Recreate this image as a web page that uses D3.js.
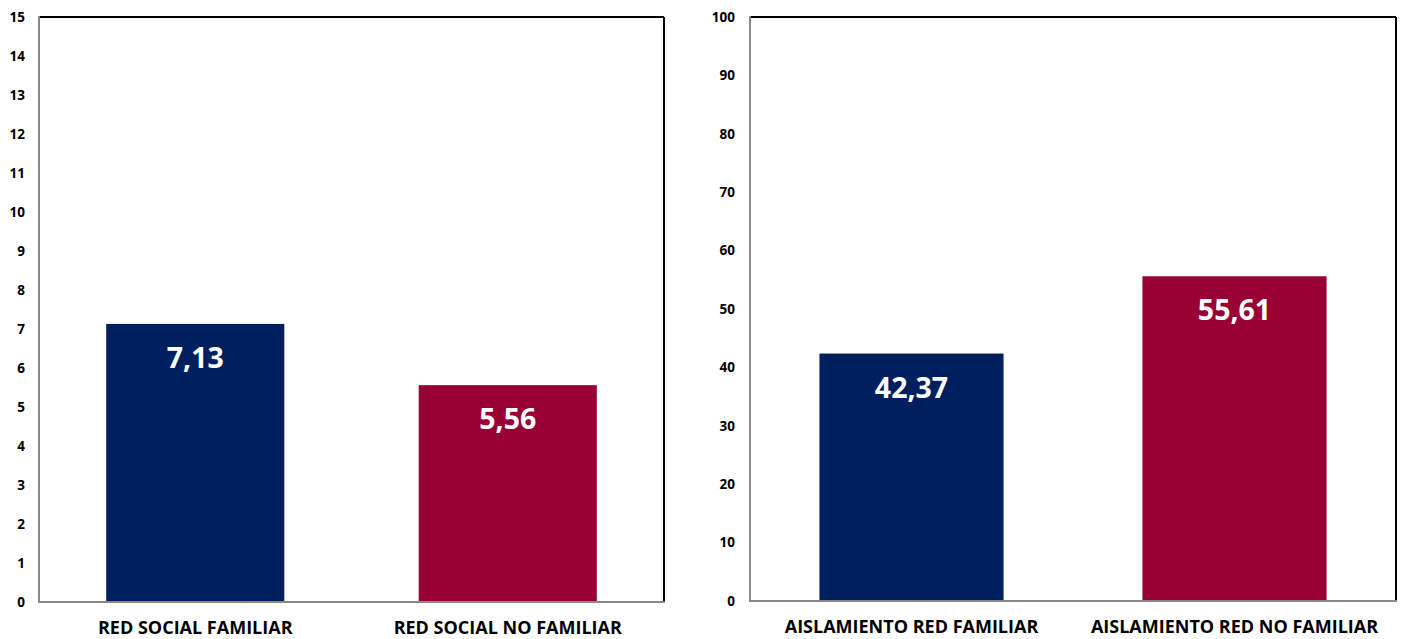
<!DOCTYPE html>
<html><head><meta charset="utf-8">
<script src="https://cdn.jsdelivr.net/npm/d3@7"></script>
<style>body{margin:0;background:#fff}svg{display:block}text{font-family:"Open Sans","Noto Sans",sans-serif;font-weight:bold}</style>
</head><body>
<svg id="c" width="1402" height="639"></svg>
<script>
const leftCategories = ["RED SOCIAL FAMILIAR", "RED SOCIAL NO FAMILIAR"];
const leftValues = [7.13, 5.56];
const leftTicks = d3.range(0, 16, 1);
const rightCategories = ["AISLAMIENTO RED FAMILIAR", "AISLAMIENTO RED NO FAMILIAR"];
const rightValues = [42.37, 55.61];
const rightTicks = d3.range(0, 101, 10);
const colors = ["#001F5F", "#990033"];

const svg = d3.select("#c");

function panel(cfg) {
  const {x0, x1, y0, y1, cats, vals, ticks, max} = cfg;
  const g = svg.append("g");
  const x = d3.scaleBand().domain(cats).range([x0, x1]).paddingInner(0.43).paddingOuter(0.215);
  const y = d3.scaleLinear().domain([0, max]).range([y1, y0]);
  g.selectAll("rect.bar").data(vals).enter().append("rect")
    .attr("x", (d, i) => x(cats[i])).attr("width", x.bandwidth())
    .attr("y", d => y(d)).attr("height", d => y(0) - y(d))
    .attr("fill", (d, i) => colors[i]);
  g.selectAll("text.val").data(vals).enter().append("text")
    .attr("x", (d, i) => x(cats[i]) + x.bandwidth() / 2)
    .attr("y", d => y(d) + 44)
    .attr("text-anchor", "middle").attr("fill", "#fff")
    .style("font-size", "28.5px")
    .text(d => d.toFixed(2).replace(".", ","));
  // frame
  g.append("line").attr("x1", x0).attr("x2", x1).attr("y1", y0).attr("y2", y0).attr("stroke", "#000").attr("stroke-width", 2);
  g.append("line").attr("x1", x1).attr("x2", x1).attr("y1", y0).attr("y2", y1).attr("stroke", "#000").attr("stroke-width", 2);
  g.append("line").attr("x1", x0).attr("x2", x0).attr("y1", y0 - 1).attr("y2", y1 + 1).attr("stroke", "#888").attr("stroke-width", 2);
  g.append("line").attr("x1", x0).attr("x2", x1 + 1).attr("y1", y1).attr("y2", y1).attr("stroke", "#888").attr("stroke-width", 2);
  // y axis labels
  const ya = d3.axisLeft(y).tickValues(ticks).tickSize(0).tickPadding(cfg.pad);
  const ag = g.append("g").attr("transform", `translate(${x0},0)`).call(ya);
  ag.select(".domain").remove();
  ag.selectAll("text").style("font-size", "13.5px").attr("fill", "#000").style("font-family", '"Open Sans",sans-serif');
  // x axis labels
  const xa = d3.axisBottom(x).tickSize(0).tickPadding(cfg.xpad);
  const xg = g.append("g").attr("transform", `translate(0,${y1})`).call(xa);
  xg.select(".domain").remove();
  xg.selectAll("text").style("font-size", "18px").attr("fill", "#000").style("font-family", '"Open Sans",sans-serif');
}

panel({x0: 39, x1: 664, y0: 17, y1: 602, cats: leftCategories, vals: leftValues, ticks: leftTicks, max: 15, pad: 14, xpad: 19});
panel({x0: 750, x1: 1396, y0: 17, y1: 601, cats: rightCategories, vals: rightValues, ticks: rightTicks, max: 100, pad: 15, xpad: 19});
</script>
</body></html>
